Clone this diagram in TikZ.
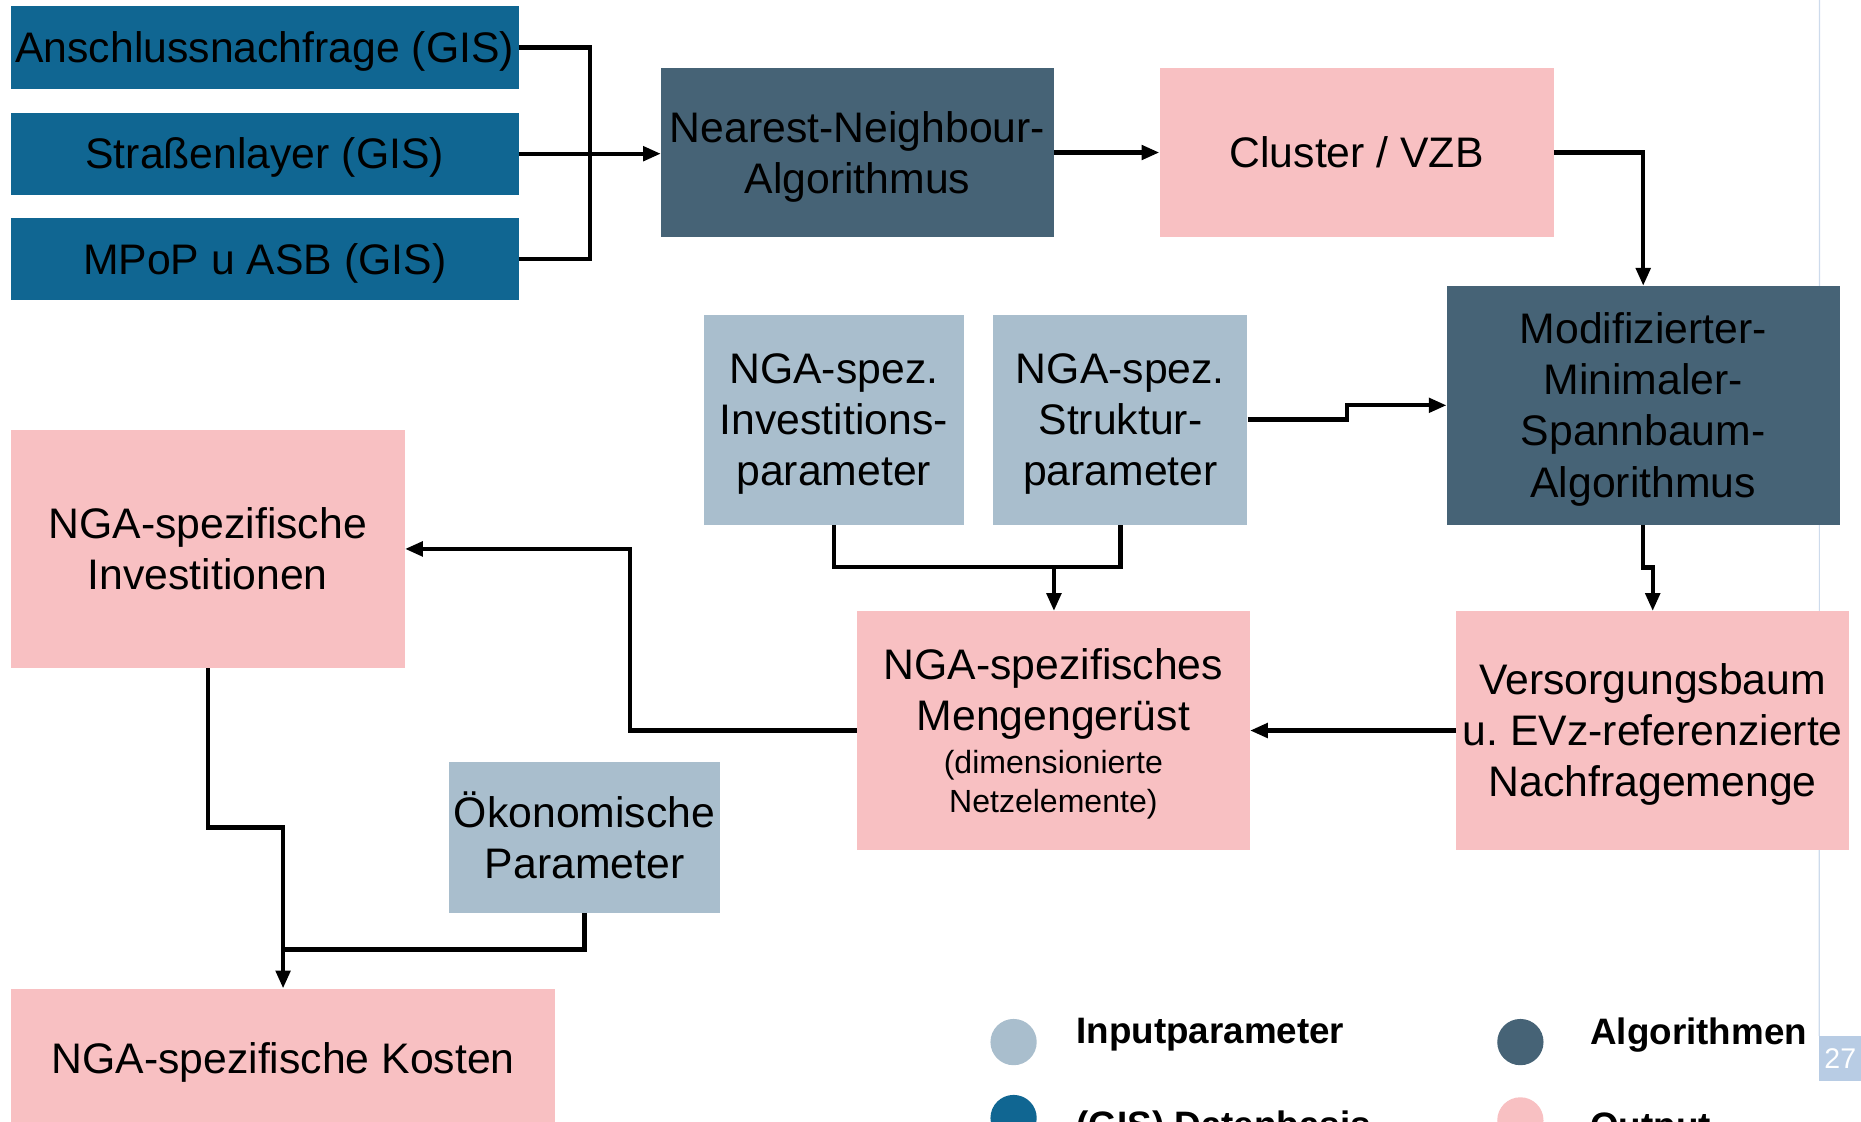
\documentclass[tikz,border=0pt]{standalone}
\usepackage{fontspec}
\setmainfont{Liberation Sans}
\usetikzlibrary{arrows.meta,positioning}
\setlength{\parindent}{0pt}
\frenchspacing

\definecolor{gisc}{RGB}{16,102,146}
\definecolor{algc}{RGB}{70,99,118}
\definecolor{outc}{RGB}{248,192,194}
\definecolor{inc}{RGB}{169,190,205}
\definecolor{pagec}{RGB}{184,204,228}

\newcommand{\bigtxt}{\fontsize{36}{43}\selectfont}
\newcommand{\smalltxt}{\fontsize{27}{33}\selectfont}

\tikzset{
  box/.style={inner sep=0pt, align=flush center, font=\bigtxt, text=black,
    execute at begin node={\rule{0pt}{33pt}},
    execute at end node={\rule[-7pt]{0pt}{7pt}}},
  sz/.style 2 args={minimum width=#1, text width=#1, minimum height=#2},
  gisbox/.style={box, fill=gisc, sz={428}{69}},
  algbox/.style={box, fill=algc},
  outbox/.style={box, fill=outc},
  inbox/.style={box, fill=inc},
  line/.style={line width=3.6pt},
  arr/.style={line, -{Triangle[length=15pt,width=12pt]}},
  dot/.style={circle, inner sep=0pt, minimum size=39},
  legtxt/.style={inner sep=0pt, font=\fontsize{31}{37}\selectfont\bfseries},
}

\begin{document}
\begin{tikzpicture}[x=1pt,y=-1pt]
\useasboundingbox (0,0) rectangle (1568,945);
\clip (0,0) rectangle (1568,945);
\node[fill=pagec, inner sep=0pt, minimum width=35, minimum height=38, text=white, font=\fontsize{24}{28}\selectfont] (pg) at (1550.5,892) {27};
\draw[pagec!70, line width=1pt] (1533,0) -- (pg.north west);

\node[gisbox, minimum height=70] (ans) at (223,40) {Anschlussnachfrage (GIS)};
\node[gisbox] (str) at (223,129.5) {Straßenlayer (GIS)};
\node[gisbox] (mpop) at (223,218.5) {MPoP u ASB (GIS)};
\node[algbox, sz={331}{143}] (nn) at (722.5,128.5) {Nearest-Neighbour-\\Algorithmus};
\node[outbox, sz={332}{143}] (cl) at (1143,128.5) {Cluster / VZB};
\node[algbox, sz={331}{201}] (mst) at (1384.5,341.5) {Modifizierter-\\Minimaler-\\Spannbaum-\\Algorithmus};
\node[inbox, sz={219}{177}] (invp) at (702.5,353.5) {NGA-spez.\\Investitions-\\parameter};
\node[inbox, sz={214}{177}] (struk) at (944,353.5) {NGA-spez.\\Struktur-\\parameter};
\node[outbox, sz={332}{201}] (inv) at (175,462.5) {NGA-spezifische\\Investitionen};
\node[outbox, sz={331}{201}] (mg) at (887.5,615.5) {NGA-spezifisches\\Mengengerüst\\[-7pt]{\smalltxt(dimensionierte}\\[-10pt]{\smalltxt Netzelemente)}};
\node[outbox, sz={331}{201}] (vb) at (1392.5,615.5) {Versorgungsbaum\\u. EVz-referenzierte\\Nachfragemenge};
\node[inbox, sz={229}{127}] (oek) at (492.5,705.5) {Ökonomische\\Parameter};
\node[outbox, sz={459}{117}] (kost) at (238.5,891.5) {NGA-spezifische Kosten};

\coordinate (gisbus) at (497,129.5);
\coordinate (pbus) at (888,478);
\coordinate (kbus) at (238.5,800);

\draw[line] (ans.east) -| (gisbus) |- (mpop.east);
\draw[arr] (str.east) -- (str.east -| nn.west);
\draw[arr] (nn.east) -- (cl.west);
\draw[arr] (cl.east) -| (mst.north);
\draw[arr] (struk.east) -- ++(84,0) |- (mst.west);
\draw[arr] (mst.south) -- ++(0,36) -| (vb.north);
\draw[line] (invp.south) |- (pbus) -| (struk.south);
\draw[arr] (pbus) -- (pbus |- mg.north);
\draw[arr] (vb.west) -- (mg.east);
\draw[arr] (mg.west) -- ++(-191,0) |- (inv.east);
\draw[arr] (inv.south) -- ++(0,134) -| (kost.north);
\draw[line] (oek.south) |- (kbus);

\node[dot, fill=inc] (l1) at (854,878) {};
\node[legtxt, right=33pt of l1, yshift=6pt] (t1) {Inputparameter};
\node[dot, fill=algc] (l2) at (1281,878) {};
\node[legtxt, right=39pt of l2, yshift=6pt] (t2) {Algorithmen};
\node[dot, fill=gisc] (l3) at (854,942) {};
\node[legtxt, right=33pt of l3, yshift=-8pt] (t3) {(GIS) Datenbasis};
\node[dot, fill=outc] (l4) at (1281,944) {};
\node[legtxt, right=39pt of l4, yshift=-8pt] (t4) {Output};
\end{tikzpicture}
\end{document}
